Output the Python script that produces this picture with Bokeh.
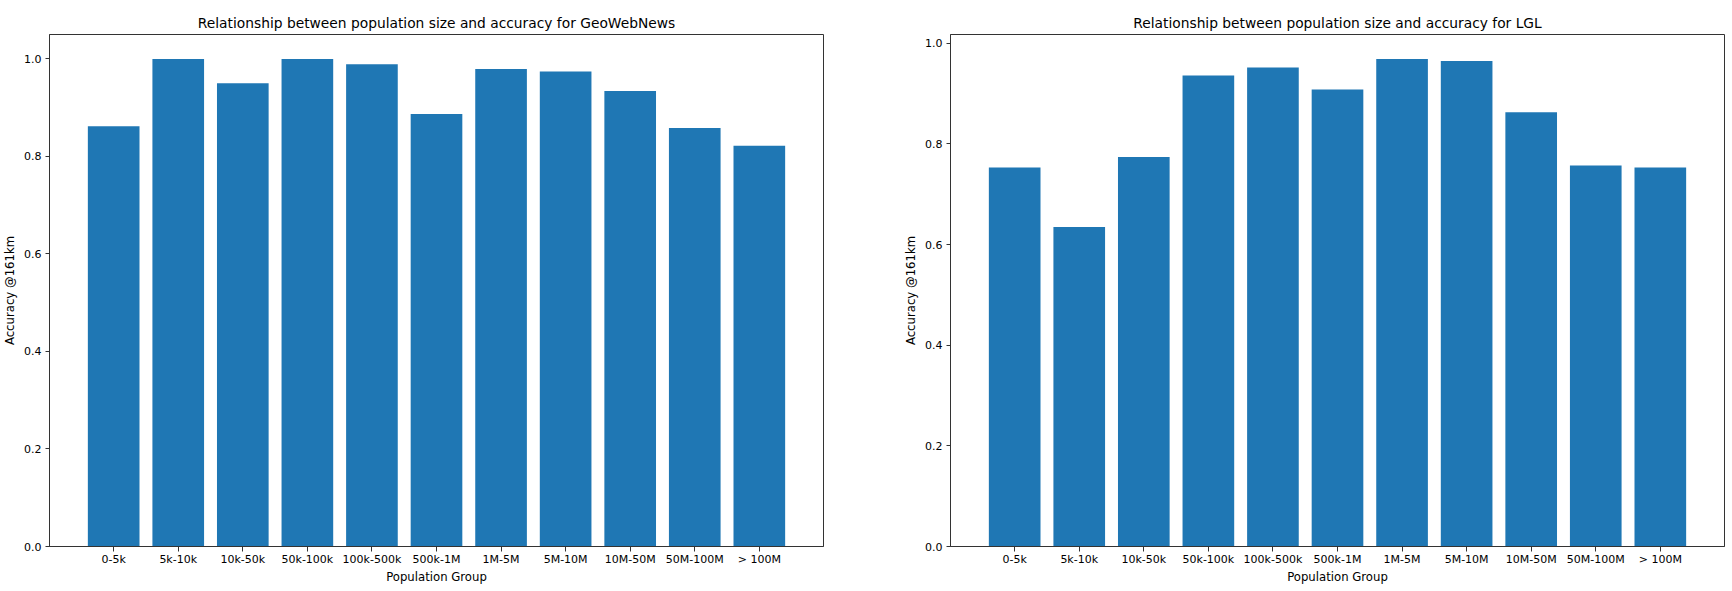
from bokeh.plotting import figure
from bokeh.layouts import row
from bokeh.models import Range1d, FixedTicker, ColumnDataSource, PrintfTickFormatter
from bokeh.embed import file_html
from bokeh.resources import INLINE

categories = ["0-5k", "5k-10k", "10k-50k", "50k-100k", "100k-500k", "500k-1M",
              "1M-5M", "5M-10M", "10M-50M", "50M-100M", "> 100M"]
geowebnews_acc = [0.862, 1.0, 0.950, 1.0, 0.989, 0.887, 0.979, 0.974, 0.934, 0.858, 0.822]
lgl_acc = [0.753, 0.635, 0.774, 0.936, 0.952, 0.908, 0.969, 0.965, 0.863, 0.757, 0.753]
y_ticks = [0.0, 0.2, 0.4, 0.6, 0.8, 1.0]

BAR = "#1f77b4"
FONT = "DejaVu Sans"
AXC = "#333333"


def make_panel(title, values, border_left, border_right):
    n = len(categories)
    xs = list(range(n))
    ymax = max(values) * 1.05
    p = figure(frame_width=774, frame_height=512, output_backend="svg", toolbar_location=None,
               x_range=Range1d(-0.4 - 0.054 * n, n - 0.6 + 0.054 * n),
               y_range=Range1d(0, ymax),
               min_border_left=border_left, min_border_right=border_right,
               min_border_top=34, min_border_bottom=45)
    src = ColumnDataSource(dict(x=xs, top=values, cat=categories))
    p.vbar(x="x", top="top", width=0.8, bottom=0, source=src,
           fill_color=BAR, line_color=None)
    p.title.text = title
    p.title.align = "center"
    p.title.text_font = FONT
    p.title.text_font_size = "13.8px"
    p.title.text_font_style = "normal"
    p.title.text_color = "black"
    p.title.standoff = 8

    p.xgrid.visible = False
    p.ygrid.visible = False
    p.outline_line_color = AXC
    p.outline_line_width = 1
    p.background_fill_color = "white"
    p.border_fill_color = "white"

    p.xaxis.ticker = FixedTicker(ticks=xs)
    p.xaxis.major_label_overrides = {i: c for i, c in enumerate(categories)}
    p.yaxis.ticker = FixedTicker(ticks=y_ticks)
    p.yaxis.formatter = PrintfTickFormatter(format="%.1f")

    for ax in (p.xaxis, p.yaxis):
        ax.minor_tick_line_color = None
        ax.major_tick_in = 0
        ax.major_tick_out = 5
        ax.major_tick_line_color = AXC
        ax.axis_line_color = AXC
        ax.major_label_text_font = FONT
        ax.major_label_text_font_size = "11px"
        ax.major_label_text_color = "black"
        ax.axis_label_text_font = FONT
        ax.axis_label_text_font_size = "11.7px"
        ax.axis_label_text_font_style = "normal"
        ax.axis_label_text_color = "black"
    p.xaxis.major_label_standoff = 1
    p.xaxis.axis_label = "Population Group"
    p.xaxis.axis_label_standoff = 1
    p.yaxis.major_tick_out = 4
    p.yaxis.major_label_standoff = 4
    p.yaxis.axis_label = "Accuracy @161km"
    p.yaxis.axis_label_standoff = 4
    return p


p1 = make_panel("Relationship between population size and accuracy for GeoWebNews",
                geowebnews_acc, 48, 58)
p2 = make_panel("Relationship between population size and accuracy for LGL",
                lgl_acc, 69, 9)

layout = row(p1, p2)
open("out.html", "w").write(file_html(layout, INLINE))
